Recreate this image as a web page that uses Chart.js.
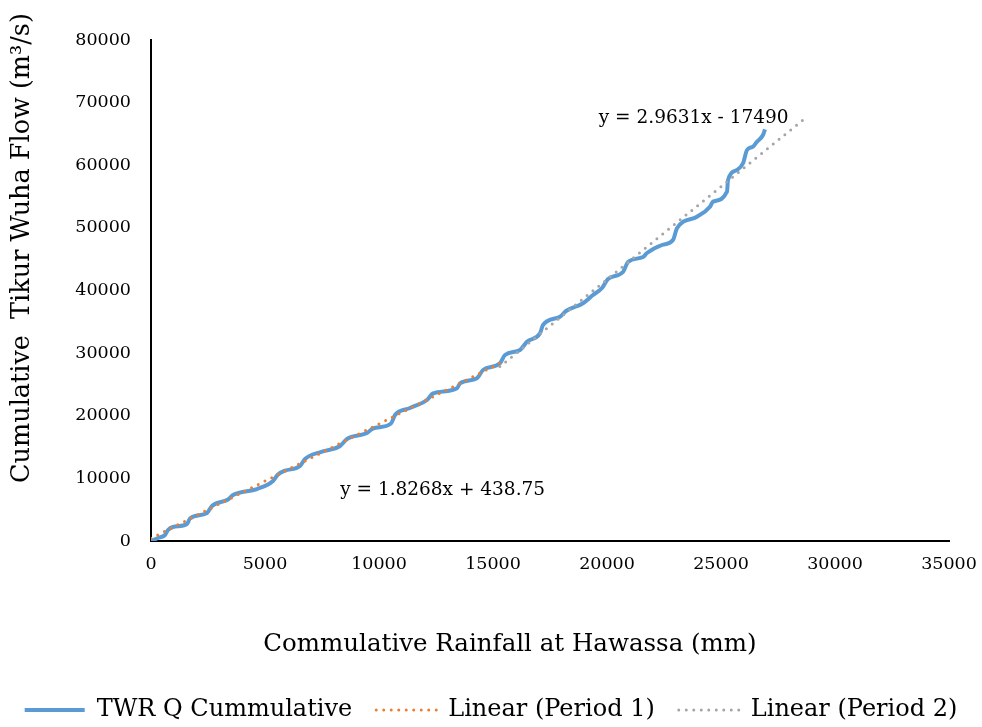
<!DOCTYPE html>
<html lang="en">
<head>
  <meta charset="UTF-8">
  <title>Cumulative flow vs rainfall</title>
  <script src="https://cdn.jsdelivr.net/npm/chart.js@4.4.0/dist/chart.umd.min.js"></script>
  <style>
    * {
      padding: 0;
      margin: 0;
    }
    body {
      background-color: #fff;
    }
    .chart {
      width: 982px;
      height: 727px;
    }
  </style>
</head>
<body>
  <div class="chart">
    <canvas id="mass"></canvas>
  </div>

  <script>
    // cumulative rainfall (mm) and cumulative flow
    const rainCum = [0, 307, 614, 746, 965, 1579, 1711, 2456, 2675, 3377, 3597, 4649, 5351, 5570,
      5877, 6535, 6754, 7500, 8290, 8597, 9474, 9737, 10526, 10702, 11360, 12105, 12368, 13421,
      13553, 14298, 14562, 15307, 15526, 16184, 16491, 17062, 17193, 17939, 18202, 18948, 19386,
      19781, 20044, 20702, 20922, 21579, 21754, 22412, 22895, 23070, 23947, 24518, 24649, 25263,
      25307, 25702, 25965, 26141, 26404, 26579, 26842, 26930];
    const flowCum = [0, 479, 958, 1756, 2236, 2715, 3593, 4471, 5589, 6627, 7345, 8303, 9581, 10619,
      11226, 11976, 13094, 14260, 15170, 16287, 17245, 17964, 18763, 20120, 21237, 22515, 23553, 24383,
      25182, 25980, 27306, 28375, 29700, 30499, 31824, 33165, 34491, 35816, 36726, 37956, 39281,
      40399, 41836, 42954, 44551, 45350, 45988, 47266, 48063, 49933, 51786, 53381, 54180, 55776,
      57645, 59241, 60311, 62435, 62962, 63760, 64830, 65740];

    // trend line end points
    const period1X = [0, 15300];
    const period1Y = [439, 28389];
    const period2X = [15300, 28600];
    const period2Y = [27846, 67255];

    // trend equations and where they sit
    const eqText = ['y = 1.8268x + 438.75', 'y = 2.9631x - 17490'];
    const eqX = [12790, 23800];
    const eqY = [8150, 67550];

    const xTitleText = 'Commulative Rainfall at Hawassa (mm)';
    const yTitleText = 'Cumulative  Tikur Wuha Flow (m³/s)';

    const fontName = "'DejaVu Serif', serif";
    const ink = '#000';

    function toPoints(xs, ys) {
      return xs.map((x, i) => ({ x: x, y: ys[i] }));
    }

    const equationLabels = {
      id: 'equationLabels',
      afterDatasetsDraw(chart) {
        const ctx = chart.ctx;
        const xs = chart.scales.x;
        const ys = chart.scales.y;
        ctx.save();
        ctx.font = '18.5px ' + fontName;
        ctx.fillStyle = ink;
        ctx.textAlign = 'center';
        ctx.textBaseline = 'middle';
        eqText.forEach((t, i) => {
          ctx.fillText(t, xs.getPixelForValue(eqX[i]), ys.getPixelForValue(eqY[i]));
        });
        ctx.restore();
      }
    };

    // axis titles are not centred on the plot in the original, so place them by hand
    const axisTitles = {
      id: 'axisTitles',
      afterDraw(chart) {
        const ctx = chart.ctx;
        ctx.save();
        ctx.fillStyle = ink;
        ctx.textAlign = 'center';
        ctx.textBaseline = 'middle';
        ctx.font = '24.5px ' + fontName;
        ctx.fillText(xTitleText, 510, 645);
        ctx.translate(22, 248);
        ctx.rotate(-Math.PI / 2);
        ctx.font = '25.5px ' + fontName;
        ctx.fillText(yTitleText, 0, 0);
        ctx.restore();
      }
    };

    const config = {
      type: 'line',
      data: {
        datasets: [{
          label: 'TWR Q Cummulative',
          data: toPoints(rainCum, flowCum),
          borderColor: '#5B9BD5',
          backgroundColor: 'rgba(0,0,0,0)',
          borderWidth: 4,
          pointRadius: 0,
          cubicInterpolationMode: 'monotone',
          order: 1
        }, {
          label: 'Linear (Period 1)',
          data: toPoints(period1X, period1Y),
          borderColor: '#ED7D31',
          backgroundColor: 'rgba(0,0,0,0)',
          borderWidth: 3,
          borderDash: [0, 7.5],
          borderCapStyle: 'round',
          pointRadius: 0,
          order: 0
        }, {
          label: 'Linear (Period 2)',
          data: toPoints(period2X, period2Y),
          borderColor: '#A5A5A5',
          backgroundColor: 'rgba(0,0,0,0)',
          borderWidth: 3,
          borderDash: [0, 7.5],
          borderCapStyle: 'round',
          pointRadius: 0,
          order: 0
        }]
      },
      options: {
        responsive: true,
        maintainAspectRatio: false,
        animation: false,
        layout: {
          padding: { top: 40, right: 0, left: 0, bottom: 0 }
        },
        plugins: {
          tooltip: { enabled: false },
          legend: {
            position: 'bottom',
            maxHeight: 53,
            labels: {
              color: ink,
              font: { family: fontName, size: 24 },
              boxWidth: 60,
              boxHeight: 0,
              padding: 24,
              sort: (a, b) => a.datasetIndex - b.datasetIndex
            }
          }
        },
        scales: {
          x: {
            type: 'linear',
            min: 0,
            max: 35000,
            grid: { display: false, drawTicks: false },
            border: { display: true, color: '#000', width: 2 },
            ticks: {
              stepSize: 5000,
              padding: 13,
              color: ink,
              font: { family: fontName, size: 17.5 },
              callback: (v) => String(v)
            },
            afterFit: (scale) => {
              scale.height = 133;
              scale.paddingRight = 33;
            }
          },
          y: {
            min: 0,
            max: 80000,
            grid: { display: false, drawTicks: false },
            border: { display: true, color: '#000', width: 2 },
            ticks: {
              stepSize: 10000,
              padding: 20,
              color: ink,
              font: { family: fontName, size: 17.5 },
              callback: (v) => String(v)
            },
            afterFit: (scale) => { scale.width = 151; }
          }
        }
      },
      plugins: [equationLabels, axisTitles]
    };

    const massChart = new Chart(document.getElementById('mass').getContext('2d'), config);
  </script>
</body>
</html>
